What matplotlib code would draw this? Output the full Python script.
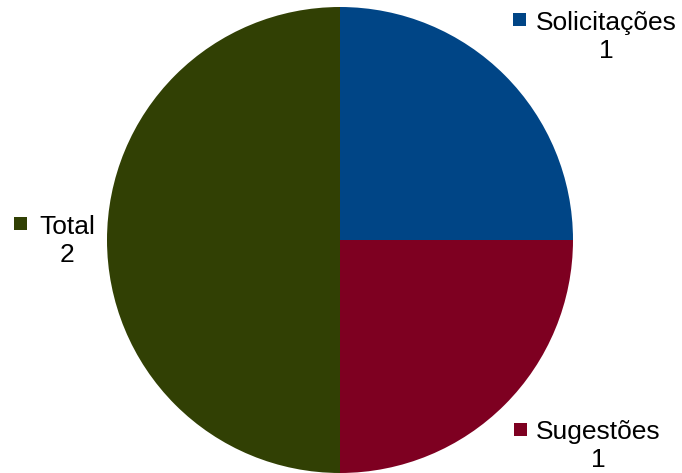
import matplotlib.pyplot as plt
from matplotlib.patches import Rectangle

plt.rcParams['font.family'] = ['Liberation Sans', 'DejaVu Sans']

categories = ['Solicitações', 'Sugestões', 'Total']
values = [1, 1, 2]
colors = ['#004586', '#7E0021', '#314004']

W, H = 682, 473
fig = plt.figure(figsize=(W / 100, H / 100), dpi=100)


def fx(px):
    return px / W


def fy(py):
    # pixel y measured from the top
    return 1 - py / H


# pie: centre (340, 240), radius 233 px
ax = fig.add_axes([fx(107), fy(473), fx(466), 466 / H])
ax.pie(values, colors=colors, startangle=90, counterclock=False, radius=1,
       wedgeprops=dict(linewidth=0))
ax.set_xlim(-1, 1)
ax.set_ylim(-1, 1)
ax.set_aspect('equal')
ax.axis('off')

# label positions (text centre, legend square centre) in pixels
text_pos = [(606, 37), (598, 446), (67, 241)]
square_pos = [(519.5, 19.5), (520, 429), (20.5, 223)]
sq = 13

for name, val, col, (tx, ty), (sx, sy) in zip(categories, values, colors,
                                               text_pos, square_pos):
    fig.patches.append(Rectangle((fx(sx - sq / 2), fy(sy + sq / 2)),
                                 sq / W, sq / H, transform=fig.transFigure,
                                 facecolor=col, edgecolor='none'))
    fig.text(fx(tx), fy(ty), f'{name}\n{val}', ha='center', va='center',
             multialignment='center', fontsize=19, linespacing=1.25)

plt.savefig('out.png', dpi=100)
